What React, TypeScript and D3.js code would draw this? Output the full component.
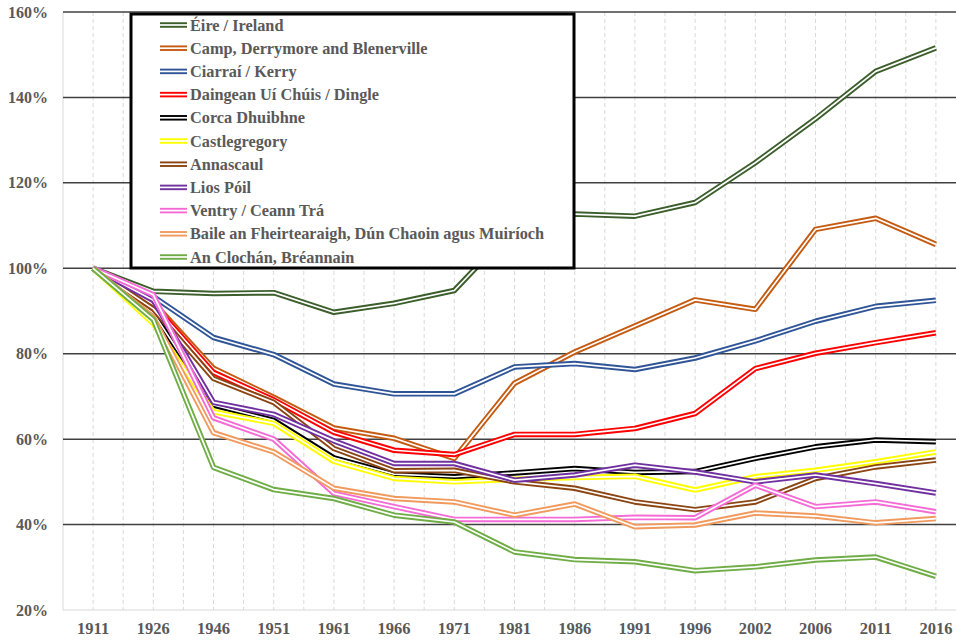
import React from "react";
import * as d3 from "d3";

const years = ["1911","1926","1946","1951","1961","1966","1971","1981","1986","1991","1996","2002","2006","2011","2016"];
const yTicks = [20, 40, 60, 80, 100, 120, 140, 160];

const seriesNames = [
  "Éire / Ireland",
  "Camp, Derrymore and Blenerville",
  "Ciarraí / Kerry",
  "Daingean Uí Chúis / Dingle",
  "Corca Dhuibhne",
  "Castlegregory",
  "Annascaul",
  "Lios Póil",
  "Ventry / Ceann Trá",
  "Baile an Fheirtearaigh, Dún Chaoin agus Muiríoch",
  "An Clochán, Bréannain",
];
const seriesColors = ["#3B5E2B","#C55A11","#2F5597","#FF0000","#000000","#FFFF00","#8B4513","#7030A0","#F46BD6","#F19A5E","#70AD47"];

const ireland = [100,94.6,94.1,94.3,89.7,91.8,94.8,109.6,112.7,112.2,115.4,124.7,135.0,146.1,151.6];
const camp = [100,92,76.6,69.8,62.6,60.2,55.5,73.1,80.4,86.5,92.6,90.4,109.1,111.7,105.6];
const kerry = [100,93.4,83.8,79.8,72.9,70.6,70.6,76.9,77.7,76.3,79.0,83.0,87.6,91.1,92.5];
const dingle = [100,91.5,75.6,69.2,61.6,57.4,56.4,61.1,61.1,62.5,66.0,76.5,80.1,82.6,84.9];
const corca = [100,89.5,68.0,64.4,55.6,51.8,51.2,52.1,53.1,52.2,52.4,55.5,58.2,59.8,59.4];
const castlegregory = [100,87,66.4,63.7,54.8,50.8,50.0,50.6,51.0,51.3,48.1,51.2,52.7,54.7,57.0];
const annascaul = [100,90.5,74.2,68.6,57.8,52.6,52.7,50.0,48.5,45.3,43.5,45.3,50.8,53.5,55.1];
const liosPoil = [100,92.5,68.6,65.8,59.6,54.3,54.3,50.4,51.6,53.9,52.3,50.0,51.6,49.6,47.4];
const ventry = [100,93.8,65.0,60.0,47.3,44.2,41.2,41.2,41.2,41.7,41.6,49.2,44.2,45.3,43.0];
const baile = [100,88.5,61.5,57.0,48.5,46.1,45.3,42.2,44.8,39.5,39.9,42.7,42.0,40.4,41.4];
const clochan = [100,88,53.4,48.2,46.1,42.2,40.6,33.6,31.8,31.3,29.2,30.1,31.7,32.4,27.9];

const seriesValues = [ireland, camp, kerry, dingle, corca, castlegregory, annascaul, liosPoil, ventry, baile, clochan];

const W = 956;
const H = 641;
const FONT = "'Liberation Serif', 'Times New Roman', serif";
const TEXT = "#595959";

export default function App() {
  const x = d3.scaleBand<string>().domain(years).range([63, 966]).padding(0);
  const bw = x.bandwidth();
  const cx = (yr: string) => (x(yr) as number) + bw / 2;
  const y = d3.scaleLinear().domain([20, 160]).range([610, 12]);

  const line = d3
    .line<number>()
    .x((_, i) => cx(years[i]))
    .y((v) => y(v));

  const vGrid: number[] = [];
  for (let i = 0; i <= years.length * 2; i++) vGrid.push(63 + (i * bw) / 2);

  const legendX = 131;
  const legendY = 14;
  const rowH = 23.2;

  return (
    <svg
      width={W}
      height={H}
      style={{ position: "absolute", left: 0, top: 0, background: "#fff" }}
      fontFamily={FONT}
    >
      {vGrid.map((gx, i) => (
        <line
          key={"v" + i}
          x1={gx}
          x2={gx}
          y1={12}
          y2={610}
          stroke="#d9d9d9"
          strokeWidth={1}
          strokeDasharray={i === 0 ? undefined : "4,3"}
        />
      ))}
      {yTicks.map((t) => (
        <line
          key={"h" + t}
          x1={63}
          x2={W}
          y1={y(t)}
          y2={y(t)}
          stroke={t === 20 ? "#d9d9d9" : "#404040"}
          strokeWidth={t === 20 ? 1 : 1.5}
        />
      ))}
      {yTicks.map((t) => (
        <text
          key={"yl" + t}
          x={48}
          y={y(t) + 5.5}
          textAnchor="end"
          fontSize={16}
          fontWeight="bold"
          fill={TEXT}
        >
          {t}%
        </text>
      ))}
      {years.map((yr) => (
        <text
          key={"xl" + yr}
          x={cx(yr)}
          y={634}
          textAnchor="middle"
          fontSize={16.5}
          fontWeight="bold"
          fill={TEXT}
        >
          {yr}
        </text>
      ))}
      {seriesValues.map((vals, si) => (
        <g key={"s" + si}>
          <path
            d={line(vals) as string}
            fill="none"
            stroke={seriesColors[si]}
            strokeWidth={5.5}
            strokeLinejoin="round"
          />
          <path
            d={line(vals) as string}
            fill="none"
            stroke="#ffffff"
            strokeWidth={1.7}
            strokeLinejoin="round"
          />
        </g>
      ))}
      <rect
        x={legendX}
        y={legendY}
        width={443}
        height={254}
        fill="#ffffff"
        stroke="#000000"
        strokeWidth={3}
      />
      {seriesNames.map((name, i) => {
        const ry = 25 + i * rowH;
        return (
          <g key={"lg" + i}>
            <line x1={160} x2={187} y1={ry} y2={ry} stroke={seriesColors[i]} strokeWidth={5.5} />
            <line x1={160} x2={187} y1={ry} y2={ry} stroke="#ffffff" strokeWidth={1.7} />
            <text x={190} y={ry + 5.5} fontSize={16.3} fontWeight="bold" fill={TEXT}>
              {name}
            </text>
          </g>
        );
      })}
    </svg>
  );
}
